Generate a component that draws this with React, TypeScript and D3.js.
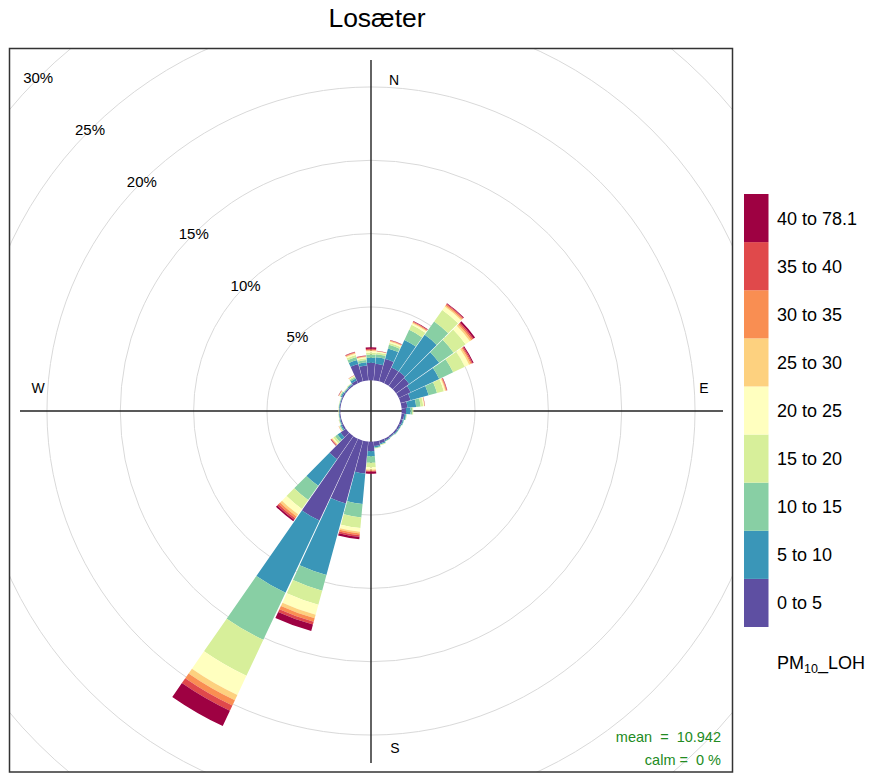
import React from "react";
import * as d3 from "d3";

const title = "Losæter";
const directions = d3.range(0, 360, 10);
const binLabels = ["0 to 5", "5 to 10", "10 to 15", "15 to 20", "20 to 25", "25 to 30", "30 to 35", "35 to 40", "40 to 78.1"];
const binColors = ["#5E4FA2", "#3A96B8", "#88CFA4", "#D7EF9A", "#FFFFBF", "#FDD17F", "#F98E52", "#E0494B", "#9E0142"];
const gridTicks = [5, 10, 15, 20, 25, 30];

// percentage frequency per direction (0,10,...,350) for each concentration bin
const bin0 = [1.19,1.14,1.58,1.18,1.20,1.09,0.90,0.70,0.40,0.30,0.18,0.15,0.12,0.12,0.10,0.12,0.20,0.30,0.65,2.19,4.45,6.16,1.93,0.45,0.12,0.08,0.06,0.05,0.06,0.06,0.10,0.08,0.10,0.20,1.23,1.02];
const bin1 = [0.34,0.45,0.75,2.08,3.06,2.51,2.15,1.28,0.60,0.30,0.12,0.07,0.06,0.06,0.04,0.06,0.07,0.10,0.34,2.08,5.05,5.44,2.22,0.25,0.08,0.05,0.04,0.03,0.04,0.04,0.08,0.05,0.06,0.15,0.28,0.22];
const bin2 = [0.23,0.21,0.25,0.76,1.12,1.20,1.05,0.59,0.30,0.12,0.04,0.03,0.02,0.02,0.01,0.02,0.03,0.05,0.45,0.92,1.10,3.55,1.19,0.20,0.06,0.03,0.02,0.02,0.02,0.02,0.06,0.03,0.04,0.10,0.21,0.16];
const bin3 = [0.11,0.12,0.14,0.38,0.96,1.00,0.88,0.48,0.18,0.06,0.02,0,0.01,0.01,0.01,0.01,0.02,0.02,0.30,0.73,1.00,2.71,0.74,0.15,0.04,0.02,0.02,0.02,0.02,0.02,0.04,0.02,0.03,0.07,0.14,0.12];
const bin4 = [0.12,0.06,0.08,0.12,0.29,0.35,0.32,0.10,0.07,0.02,0,0,0,0,0,0,0.01,0.01,0.15,0.26,0.70,1.44,0.44,0.08,0.02,0.01,0.01,0.01,0.01,0.01,0.03,0.02,0.02,0.04,0.09,0.07];
const bin5 = [0.05,0.02,0.05,0.06,0.09,0.13,0.12,0.05,0.02,0,0,0,0,0,0,0,0,0,0.07,0.11,0.25,0.40,0.18,0.05,0.01,0.01,0,0.01,0,0,0.02,0,0,0.02,0.05,0.04];
const bin6 = [0.04,0.01,0.03,0.05,0.08,0.10,0.08,0.05,0.01,0,0,0,0,0,0,0,0,0,0.04,0.12,0.25,0.40,0.15,0.04,0.01,0,0,0,0,0,0.01,0,0,0.01,0.04,0.03];
const bin7 = [0.07,0.01,0.02,0.03,0.05,0.09,0.07,0.03,0.01,0,0,0,0,0,0,0,0,0,0.05,0.11,0.20,0.40,0.13,0.03,0.01,0,0,0,0,0,0.01,0,0,0.01,0.03,0.03];
const bin8 = [0.11,0.02,0.02,0.03,0.05,0.12,0.07,0.02,0.01,0,0,0,0,0,0,0,0,0,0.14,0.17,0.45,1.15,0.12,0.03,0,0,0,0,0,0,0.02,0,0,0,0.03,0.02];
const bins = [bin0, bin1, bin2, bin3, bin4, bin5, bin6, bin7, bin8];

const meanText = "mean  =  10.942";
const calmText = "calm =  0 %";

function wedge(cx: number, cy: number, r0: number, r1: number, a0deg: number, a1deg: number): string {
  const a0 = ((a0deg - 90) * Math.PI) / 180;
  const a1 = ((a1deg - 90) * Math.PI) / 180;
  const p = d3.path();
  p.moveTo(cx + r0 * Math.cos(a0), cy + r0 * Math.sin(a0));
  p.lineTo(cx + r1 * Math.cos(a0), cy + r1 * Math.sin(a0));
  p.arc(cx, cy, r1, a0, a1, false);
  p.lineTo(cx + r0 * Math.cos(a1), cy + r0 * Math.sin(a1));
  p.arc(cx, cy, r0, a1, a0, true);
  p.closePath();
  return p.toString();
}

export default function App() {
  const W = 870, H = 775;
  const cx = 371, cy = 411;
  const panel = { x: 9.5, y: 48.5, w: 723, h: 723.5 };
  const r = d3.scaleLinear().domain([0, 30]).range([30.7, 470.7]);
  const halfW = 4.8;
  const font = "Arial, 'Liberation Sans', Helvetica, sans-serif";

  const segs: any[] = [];
  directions.forEach((dir, di) => {
    let cum = 0;
    bins.forEach((b, bi) => {
      const v = b[di];
      if (v > 0) {
        const d = wedge(cx, cy, r(cum), r(cum + v), dir - halfW, dir + halfW);
        segs.push(<path key={`${dir}-${bi}`} d={d} fill={binColors[bi]} />);
      }
      cum += v;
    });
  });

  const legTop = 194, legBot = 627;
  const boxH = (legBot - legTop) / binLabels.length;
  const diag = Math.SQRT1_2;

  return (
    <svg width={W} height={H} style={{ display: "block", position: "absolute", left: 0, top: 0 }} fontFamily={font}>
      <rect x={0} y={0} width={W} height={H} fill="#fff" />
      <defs>
        <clipPath id="pclip">
          <rect x={panel.x} y={panel.y} width={panel.w} height={panel.h} />
        </clipPath>
      </defs>
      <text x={377} y={27} textAnchor="middle" fontSize={26.5} fill="#000">{title}</text>
      <g clipPath="url(#pclip)">
        {gridTicks.map((t) => (
          <circle key={t} cx={cx} cy={cy} r={r(t)} fill="none" stroke="#d9d9d9" strokeWidth={1} />
        ))}
        {gridTicks.map((t) => (
          <text key={"l" + t} x={cx - r(t) * diag} y={cy - r(t) * diag + 5} textAnchor="middle" fontSize={15} fill="#000">{t}%</text>
        ))}
        <line x1={cx - 351} x2={cx + 352} y1={cy} y2={cy} stroke="#222" strokeWidth={1.4} />
        <line x1={cx} x2={cx} y1={cy - 351} y2={cy + 352} stroke="#222" strokeWidth={1.4} />
        <g>{segs}</g>
        <text x={cx + 23} y={cy - 326} textAnchor="middle" fontSize={14} fill="#000">N</text>
        <text x={cx + 24} y={cy + 342} textAnchor="middle" fontSize={14} fill="#000">S</text>
        <text x={cx - 333} y={cy - 18} textAnchor="middle" fontSize={14} fill="#000">W</text>
        <text x={cx + 333} y={cy - 18} textAnchor="middle" fontSize={14} fill="#000">E</text>
        <text x={721} y={742} textAnchor="end" fontSize={14.5} fill="forestgreen" style={{ whiteSpace: "pre" }}>{meanText}</text>
        <text x={721} y={765} textAnchor="end" fontSize={14.5} fill="forestgreen" style={{ whiteSpace: "pre" }}>{calmText}</text>
      </g>
      <rect x={panel.x} y={panel.y} width={panel.w} height={panel.h} fill="none" stroke="#333" strokeWidth={1.5} />
      {binLabels.map((lab, i) => {
        const y0 = legBot - (i + 1) * boxH;
        return (
          <g key={lab}>
            <rect x={744} y={y0} width={24.5} height={boxH} fill={binColors[i]} />
            <text x={777} y={y0 + boxH / 2 + 6.5} fontSize={18} fill="#000">{lab}</text>
          </g>
        );
      })}
      <text x={777} y={669} fontSize={18} fill="#000">
        PM<tspan fontSize={12.5} dy={4}>10</tspan><tspan dy={-4}>_LOH</tspan>
      </text>
    </svg>
  );
}
